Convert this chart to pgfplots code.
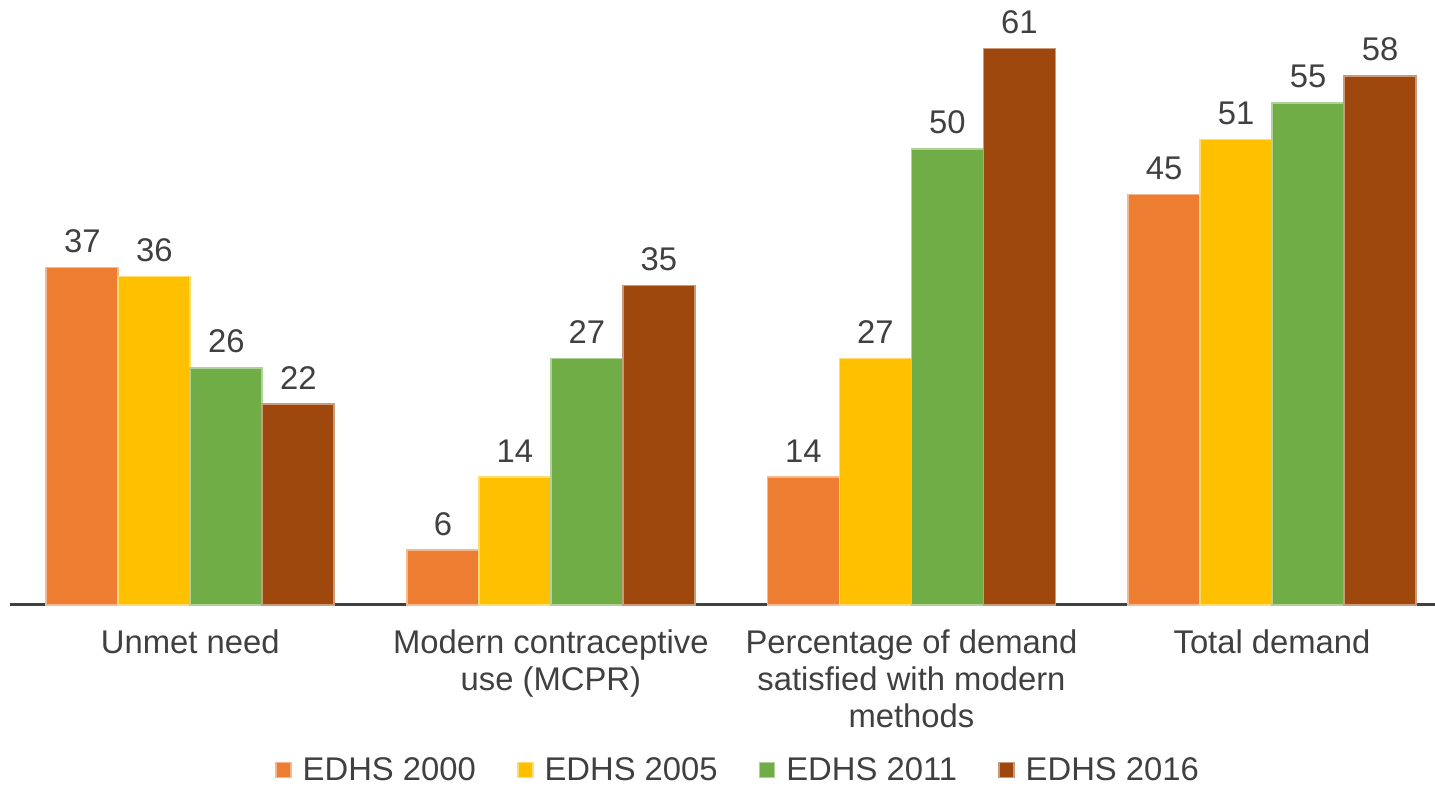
\documentclass[border=0pt]{standalone}
\usepackage{pgfplots}
\pgfplotsset{compat=1.18}
\usepackage{fontspec}
\setmainfont{Liberation Sans}
\definecolor{cA}{HTML}{ED7D31}
\definecolor{cB}{HTML}{FFC000}
\definecolor{cC}{HTML}{70AD47}
\definecolor{cD}{HTML}{9E480E}
\definecolor{txt}{HTML}{404040}
\begin{document}
\begin{tikzpicture}
\begin{axis}[
  width=712.5pt, height=302.5pt, scale only axis,
  ybar=0pt, bar width=36pt,
  xmin=-0.5, xmax=3.452, ymin=0, ymax=66.3,
  hide y axis,
  axis x line*=bottom,
  x axis line style={-, line width=1.5pt, color=txt},
  xtick={0,1,2,3}, xtick style={draw=none},
  xticklabels={Unmet need, {Modern contraceptive\\use (MCPR)}, {Percentage of demand\\satisfied with modern\\methods}, Total demand},
  xticklabel style={align=center, font=\fontsize{16.4}{18.5}\selectfont, text=txt, inner sep=0pt, yshift=-8pt},
  nodes near coords,
  every node near coord/.append style={font=\fontsize{16.4}{18.5}\selectfont, text=txt, anchor=south, inner sep=0pt, yshift=7pt},
  /pgf/number format/assume math mode=true,
  legend style={draw=none, at={(0.5116,-0.273)}, anchor=center, legend columns=4,
    font=\fontsize{16.4}{18.5}\selectfont, text=txt,
    /tikz/every odd column/.append style={column sep=3.5pt},
    /tikz/every even column/.append style={column sep=18.5pt}},
  legend image code/.code={\fill[#1] (0pt,-3.75pt) rectangle (7.5pt,3.75pt);},
  clip=false,
]
\addplot[fill=cA, draw=cA!55!white, line width=0.8pt] coordinates {(0,37) (1,6) (2,14) (3,45)};
\addplot[fill=cB, draw=cB!55!white, line width=0.8pt] coordinates {(0,36) (1,14) (2,27) (3,51)};
\addplot[fill=cC, draw=cC!55!white, line width=0.8pt] coordinates {(0,26) (1,27) (2,50) (3,55)};
\addplot[fill=cD, draw=cD!55!white, line width=0.8pt] coordinates {(0,22) (1,35) (2,61) (3,58)};
\legend{EDHS 2000, EDHS 2005, EDHS 2011, EDHS 2016}
\end{axis}
\pgfresetboundingbox
\path[use as bounding box] ([xshift=-5pt,yshift=-90.5pt]current axis.south west) rectangle (current axis.north east);
\end{tikzpicture}
\end{document}
